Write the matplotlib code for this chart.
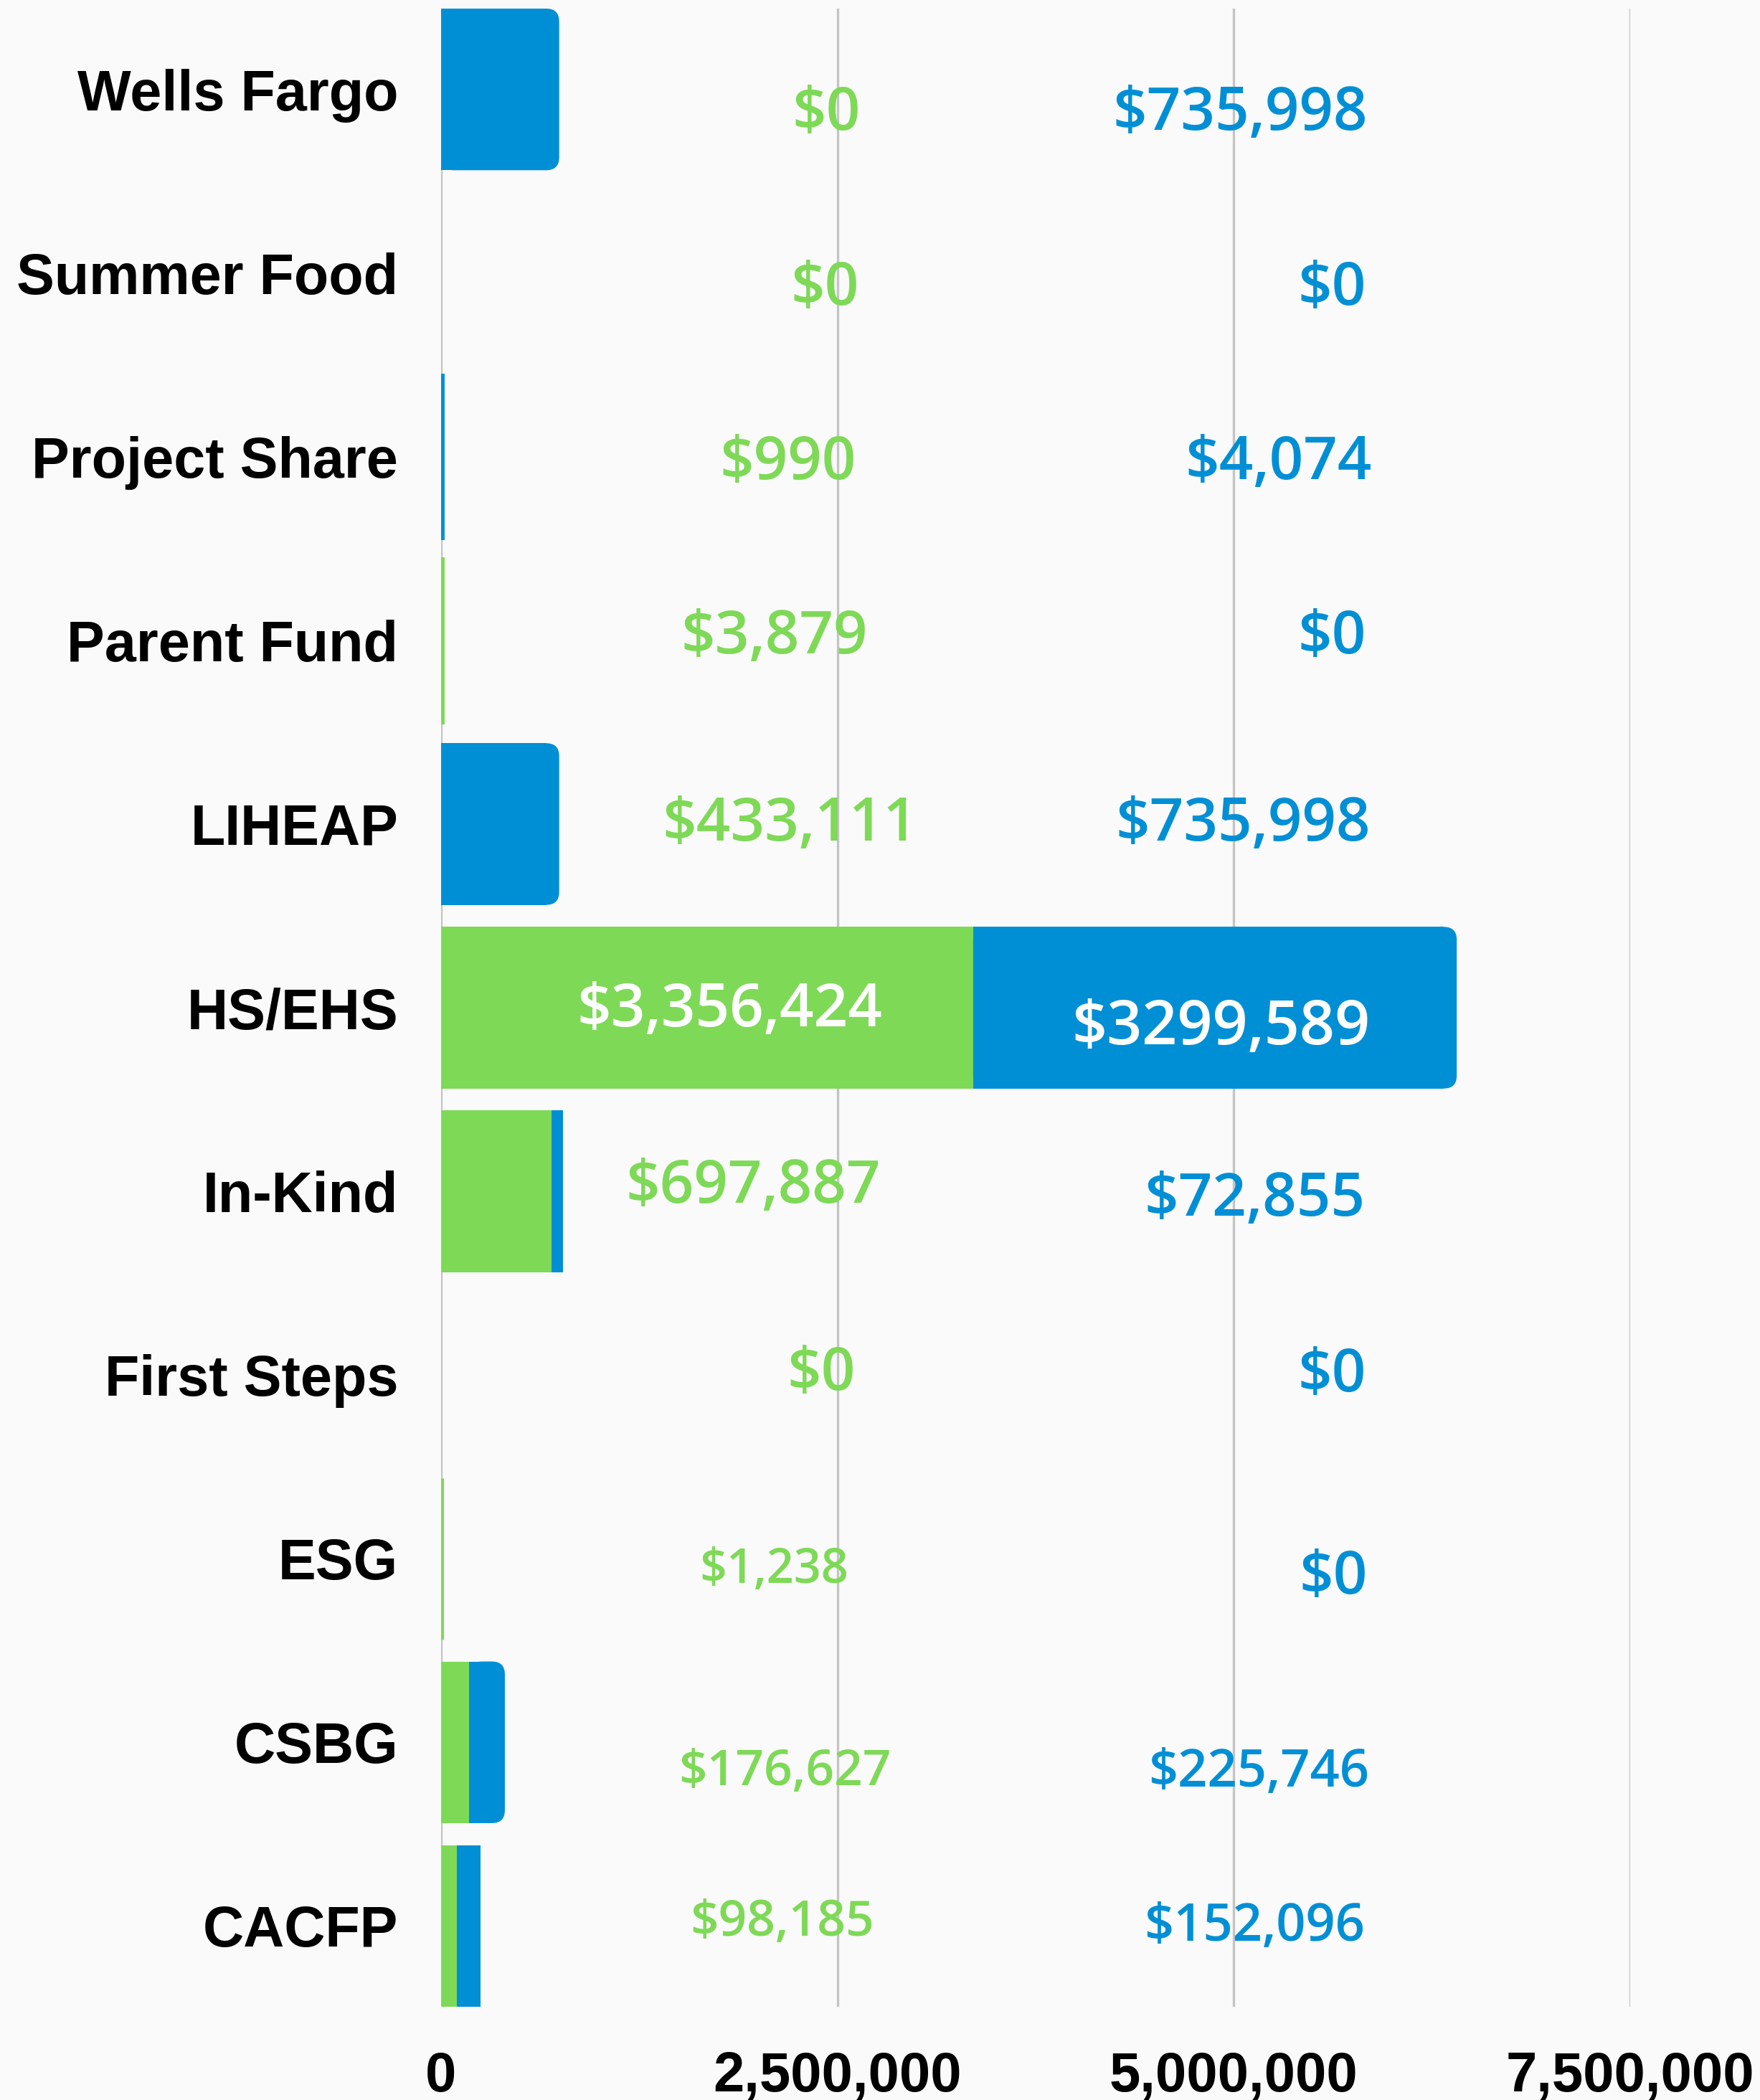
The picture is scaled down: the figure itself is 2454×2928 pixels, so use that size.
import matplotlib.pyplot as plt
from matplotlib.patches import FancyBboxPatch, Rectangle

categories = ["Wells Fargo", "Summer Food", "Project Share", "Parent Fund", "LIHEAP",
              "HS/EHS", "In-Kind", "First Steps", "ESG", "CSBG", "CACFP"]
# bar lengths as drawn
green_vals = [0, 0, 990, 3879, 0, 3356424, 697887, 0, 1238, 176627, 98185]
blue_vals = [745000, 0, 4074, 0, 745000, 3050000, 72855, 0, 0, 225746, 152096]
# value labels as printed
green_labels = ["$0", "$0", "$990", "$3,879", "$433,111", "$3,356,424", "$697,887",
                "$0", "$1,238", "$176,627", "$98,185"]
blue_labels = ["$735,998", "$0", "$4,074", "$0", "$735,998", "$3299,589", "$72,855",
               "$0", "$0", "$225,746", "$152,096"]
xticks = [0, 2500000, 5000000, 7500000]
xtick_labels = ["0", "2,500,000", "5,000,000", "7,500,000"]

GREEN = "#7ED957"
BLUE = "#008FD5"
BG = "#FAFAFA"

# label placement (x in data units, y offset from bar centre), font size
green_pos = [(2.43e6, 0.10, 60), (2.42e6, 0.05, 60), (2.19e6, 0.0, 60), (2.10e6, -0.05, 60),
             (2.20e6, -0.03, 60), (1.82e6, -0.02, 60), (1.97e6, -0.06, 60), (2.40e6, -0.04, 60),
             (2.10e6, 0.03, 48), (2.17e6, 0.13, 50), (2.15e6, -0.05, 50)]
blue_pos = [(5.04e6, 0.10, 60), (5.62e6, 0.05, 60), (5.28e6, 0.0, 60), (5.62e6, -0.05, 60),
            (5.06e6, -0.03, 60), (4.92e6, 0.08, 62), (5.13e6, 0.01, 60), (5.62e6, -0.03, 60),
            (5.63e6, 0.07, 60), (5.16e6, 0.13, 52), (5.13e6, -0.03, 52)]
dy_shift = 0.035

fig = plt.figure(figsize=(24.54, 29.28), dpi=100, facecolor=BG)
ax = fig.add_axes([0.2506, 0.0444, 0.6756, 0.9515])
ax.set_facecolor(BG)

h = 0.88
ypos = list(range(len(categories)))
bars_g = ax.barh(ypos, green_vals, height=h, color=GREEN, zorder=2)
bars_b = ax.barh(ypos, blue_vals, height=h, left=green_vals, color=BLUE, zorder=2)

ax.set_xlim(0, 7500000)
ax.set_ylim(len(categories) - 1 + h / 2, -h / 2)

# pixel scale for rounded corners
ax_w_px = 2454 * 0.6756
ax_h_px = 2928 * 0.9515
x_per_px = 7500000 / ax_w_px
y_per_px = (len(categories) - 1 + h) / ax_h_px
r_px = 18
rx = r_px * x_per_px
ry = r_px * y_per_px

for i in range(len(categories)):
    for p in (bars_g[i], bars_b[i]):
        w = p.get_width()
        if 0 < w < 4 * x_per_px:
            p.set_edgecolor(p.get_facecolor())
            p.set_linewidth(5)
    end = bars_b[i] if blue_vals[i] > 0 else bars_g[i]
    w = end.get_width()
    if w > 2 * rx:
        x0, y0 = end.get_x(), end.get_y()
        hh = end.get_height()
        c = end.get_facecolor()
        end.set_visible(False)
        ax.add_patch(FancyBboxPatch((x0, y0), w, hh,
                                    boxstyle=f"round,pad=0,rounding_size={rx}",
                                    mutation_aspect=ry / rx, fc=c, ec="none", zorder=2))
        ax.add_patch(Rectangle((x0, y0), w - rx, hh, fc=c, ec="none", zorder=2))

# value labels
for i in range(len(categories)):
    gx, gdy, gs = green_pos[i]
    bx, bdy, bs = blue_pos[i]
    gcol = "white" if i == 5 else GREEN
    bcol = "white" if i == 5 else BLUE
    ax.text(gx, i + gdy + dy_shift, green_labels[i], color=gcol, fontsize=gs,
            family="Open Sans", fontweight=600, ha="center", va="center", zorder=3)
    ax.text(bx, i + bdy + dy_shift, blue_labels[i], color=bcol, fontsize=bs,
            family="Open Sans", fontweight=600, ha="center", va="center", zorder=3)

ax.set_yticks(ypos)
ax.set_yticklabels(categories, fontsize=57, fontweight="bold", family="Liberation Sans")
ax.set_xticks(xticks)
ax.set_xticklabels(xtick_labels, fontsize=56, fontweight="bold", family="Liberation Sans")
ax.tick_params(axis="y", length=0, pad=43)
ax.tick_params(axis="x", length=0, pad=44)

ax.grid(axis="x", color="#C4C4C4", linewidth=2.4, zorder=0)
ax.set_axisbelow(True)
for s in ax.spines.values():
    s.set_visible(False)

fig.savefig("out.png", dpi=100, facecolor=BG)
